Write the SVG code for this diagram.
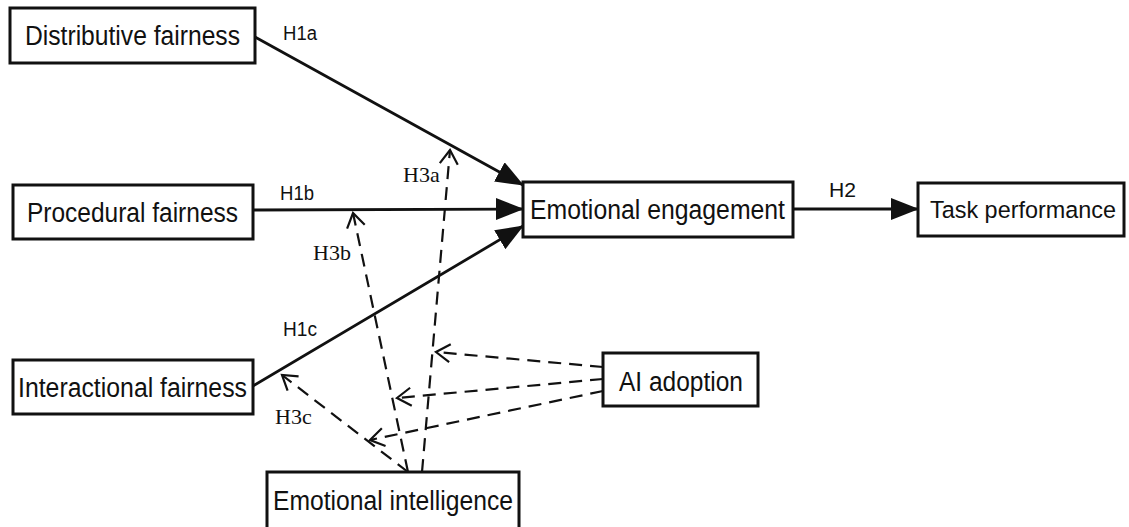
<svg xmlns="http://www.w3.org/2000/svg" width="1129" height="527" viewBox="0 0 1129 527">
<style>
.box{fill:#fff;stroke:#111;stroke-width:3}
.lbl{font-family:"Liberation Sans",Arial,sans-serif;font-size:27px;fill:#111}
.h{font-family:"Liberation Sans",Arial,sans-serif;font-size:20px;fill:#111}
.hs{font-family:"Liberation Serif","Times New Roman",serif;font-size:22px;fill:#111}
.solid{stroke:#111;stroke-width:2.8;fill:none}
.dash{stroke:#111;stroke-width:2.2;fill:none;stroke-dasharray:13 8}
</style>
<defs>
<marker id="fillArrow" markerUnits="userSpaceOnUse" markerWidth="30" markerHeight="24" refX="27" refY="11" orient="auto" viewBox="0 0 30 24">
<path d="M0,0 L28,11 L0,22 z" fill="#111"/>
</marker>
<marker id="openArrow" markerUnits="userSpaceOnUse" markerWidth="22" markerHeight="22" refX="17" refY="11" orient="auto" viewBox="0 0 22 22">
<path d="M3,2 L17,11 L3,20" fill="none" stroke="#111" stroke-width="2.2"/>
</marker>
</defs>
<rect width="1129" height="527" fill="#fff"/>
<g id="connectors">
<path class="solid" d="M255,37 L523,185" marker-end="url(#fillArrow)"/>
<path class="solid" d="M253,210 L523,209" marker-end="url(#fillArrow)"/>
<path class="solid" d="M253,386 L523,226" marker-end="url(#fillArrow)"/>
<path class="solid" d="M793,209 L918,209" marker-end="url(#fillArrow)"/>
<path class="dash" d="M422,472 L450,150" marker-end="url(#openArrow)"/>
<path class="dash" d="M408,472 L353,213" marker-end="url(#openArrow)"/>
<path class="dash" d="M408,472 L282,375" marker-end="url(#openArrow)"/>
<path class="dash" d="M603,367 L436,352" marker-end="url(#openArrow)"/>
<path class="dash" d="M603,379 L397,398" marker-end="url(#openArrow)"/>
<path class="dash" d="M603,391 L370,440" marker-end="url(#openArrow)"/>
<text class="h" x="283" y="40" textLength="34" lengthAdjust="spacingAndGlyphs">H1a</text>
<text class="h" x="280" y="200" textLength="34" lengthAdjust="spacingAndGlyphs">H1b</text>
<text class="h" x="283" y="336" textLength="34" lengthAdjust="spacingAndGlyphs">H1c</text>
<text class="h" x="829" y="197" textLength="27" lengthAdjust="spacingAndGlyphs">H2</text>
<text class="hs" x="403" y="182">H3a</text>
<text class="hs" x="313" y="260">H3b</text>
<text class="hs" x="275" y="424">H3c</text>
</g>
<g id="distributive">
<rect class="box" x="10" y="8" width="245" height="55"/>
<text class="lbl" x="25" y="45" textLength="215" lengthAdjust="spacingAndGlyphs">Distributive fairness</text>
</g>
<g id="procedural">
<rect class="box" x="13" y="185" width="240" height="54"/>
<text class="lbl" x="27" y="222" textLength="211" lengthAdjust="spacingAndGlyphs">Procedural fairness</text>
</g>
<g id="interactional">
<rect class="box" x="13" y="360" width="240" height="54"/>
<text class="lbl" x="18" y="397" textLength="229" lengthAdjust="spacingAndGlyphs">Interactional fairness</text>
</g>
<g id="engagement">
<rect class="box" x="523" y="182" width="270" height="55"/>
<text class="lbl" x="530" y="219" textLength="255" lengthAdjust="spacingAndGlyphs">Emotional engagement</text>
</g>
<g id="task">
<rect class="box" x="918" y="183" width="206" height="53"/>
<text class="lbl" x="930" y="218" style="font-size:24.5px" textLength="186" lengthAdjust="spacingAndGlyphs">Task performance</text>
</g>
<g id="ai">
<rect class="box" x="603" y="353" width="155" height="53"/>
<text class="lbl" x="619" y="391" textLength="124" lengthAdjust="spacingAndGlyphs">AI adoption</text>
</g>
<g id="intelligence">
<rect class="box" x="267" y="472" width="252" height="62"/>
<text class="lbl" x="273" y="510" textLength="240" lengthAdjust="spacingAndGlyphs">Emotional intelligence</text>
</g>
</svg>
